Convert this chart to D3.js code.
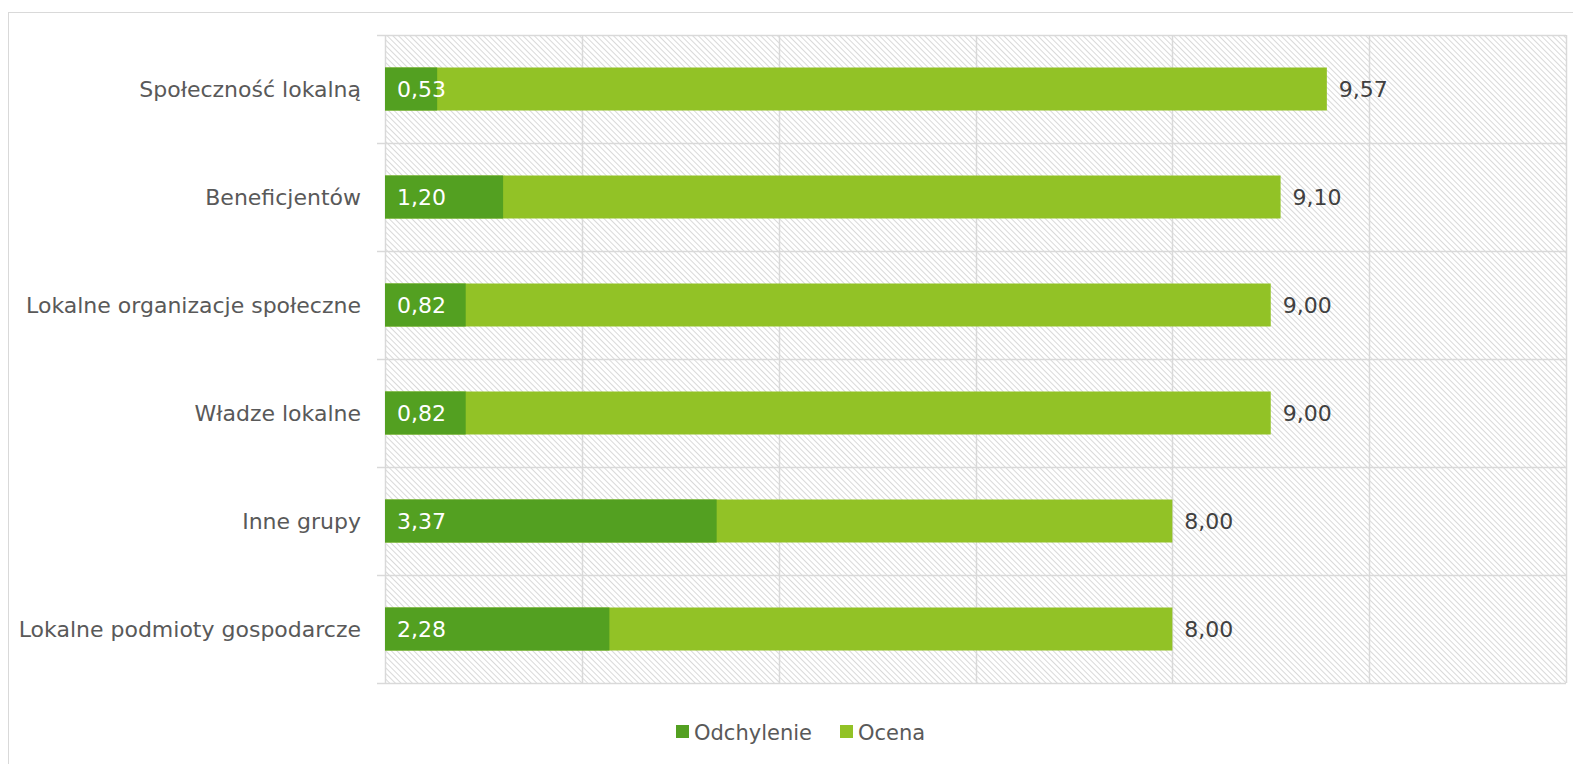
<!DOCTYPE html>
<html>
<head>
    <meta charset="utf-8">
    <script src="https://d3js.org/d3.v7.min.js"></script>
    <style>
        body { margin: 0; background: #fff; }
        text { font-family: "DejaVu Sans", Verdana, sans-serif; }
    </style>
</head>
<body>
    <div id="chart"></div>
    <script>
        var categories = ["Społeczność lokalną", "Beneficjentów", "Lokalne organizacje społeczne",
            "Władze lokalne", "Inne grupy", "Lokalne podmioty gospodarcze"];
        var odchylenie = [0.53, 1.20, 0.82, 0.82, 3.37, 2.28];
        var ocena = [9.57, 9.10, 9.00, 9.00, 8.00, 8.00];
        var xTicks = [0, 2, 4, 6, 8, 10, 12];
        var seriesNames = ["Odchylenie", "Ocena"];
        var colors = ["#53a021", "#92c226"];

        var W = 1573, H = 764;
        var plotL = 385, plotR = 1566, plotT = 35, plotB = 683;

        var svg = d3.select("#chart").append("svg")
            .attr("width", W).attr("height", H);

        // diagonal hatch for the plot area
        var pat = svg.append("defs").append("pattern")
            .attr("id", "hatch")
            .attr("patternUnits", "userSpaceOnUse")
            .attr("width", 4).attr("height", 4)
            .attr("patternTransform", "rotate(-45)");
        pat.append("rect").attr("width", 4).attr("height", 4).attr("fill", "#fff");
        pat.append("line")
            .attr("x1", 0).attr("y1", 0).attr("x2", 0).attr("y2", 4)
            .attr("stroke", "#d0d0d0").attr("stroke-width", 1.6);

        // outer border
        svg.append("rect")
            .attr("x", 8.5).attr("y", 12.5)
            .attr("width", W).attr("height", H)
            .attr("fill", "none").attr("stroke", "#d9d9d9");

        var x = d3.scaleLinear().domain([0, 12]).range([plotL, plotR]);
        var y = d3.scaleBand().domain(categories).range([plotT, plotB]);

        svg.append("rect")
            .attr("x", plotL).attr("y", plotT)
            .attr("width", plotR - plotL).attr("height", plotB - plotT)
            .attr("fill", "url(#hatch)");

        // vertical gridlines
        svg.selectAll(".vgrid").data(xTicks).enter().append("line")
            .attr("x1", function (d) { return Math.round(x(d)) + 0.5; })
            .attr("x2", function (d) { return Math.round(x(d)) + 0.5; })
            .attr("y1", plotT).attr("y2", plotB)
            .attr("stroke", "#d9d9d9").attr("stroke-width", 1.5);

        // horizontal band lines
        var bandEdges = categories.map(function (c) { return y(c); }).concat([plotB]);
        svg.selectAll(".hgrid").data(bandEdges).enter().append("line")
            .attr("x1", plotL - 8).attr("x2", plotR)
            .attr("y1", function (d) { return Math.round(d) + 0.5; })
            .attr("y2", function (d) { return Math.round(d) + 0.5; })
            .attr("stroke", "#d9d9d9").attr("stroke-width", 1.5);

        var barH = 43;
        function barY(c) { return y(c) + (y.bandwidth() - barH) / 2; }

        svg.selectAll(".ocena").data(categories).enter().append("rect")
            .attr("x", x(0)).attr("y", barY)
            .attr("width", function (d, i) { return x(ocena[i]) - x(0); })
            .attr("height", barH)
            .attr("fill", colors[1]);

        svg.selectAll(".odch").data(categories).enter().append("rect")
            .attr("x", x(0)).attr("y", barY)
            .attr("width", function (d, i) { return x(odchylenie[i]) - x(0); })
            .attr("height", barH)
            .attr("fill", colors[0]);

        function fmt(v) { return v.toFixed(2).replace(".", ","); }

        svg.selectAll(".odchLbl").data(categories).enter().append("text")
            .attr("x", x(0) + 12)
            .attr("y", function (d) { return y(d) + y.bandwidth() / 2; })
            .attr("dy", "0.36em")
            .attr("fill", "#fff")
            .style("font-size", "22px")
            .text(function (d, i) { return fmt(odchylenie[i]); });

        svg.selectAll(".ocenaLbl").data(categories).enter().append("text")
            .attr("x", function (d, i) { return x(ocena[i]) + 12; })
            .attr("y", function (d) { return y(d) + y.bandwidth() / 2; })
            .attr("dy", "0.36em")
            .attr("fill", "#404040")
            .style("font-size", "22px")
            .text(function (d, i) { return fmt(ocena[i]); });

        svg.selectAll(".catLbl").data(categories).enter().append("text")
            .attr("x", 361)
            .attr("y", function (d) { return y(d) + y.bandwidth() / 2; })
            .attr("dy", "0.36em")
            .attr("text-anchor", "end")
            .attr("fill", "#595959")
            .style("font-size", "22px")
            .text(function (d) { return d; });

        // legend
        var legend = svg.append("g").attr("transform", "translate(676,732)");
        var offs = [0, 164];
        seriesNames.forEach(function (s, i) {
            var g = legend.append("g").attr("transform", "translate(" + offs[i] + ",0)");
            g.append("rect").attr("x", 0).attr("y", -7).attr("width", 13).attr("height", 13)
                .attr("fill", colors[i]);
            g.append("text").attr("x", 18).attr("y", 0).attr("dy", "0.36em")
                .attr("fill", "#595959").style("font-size", "21px").text(s);
        });
    </script>
</body>
</html>
